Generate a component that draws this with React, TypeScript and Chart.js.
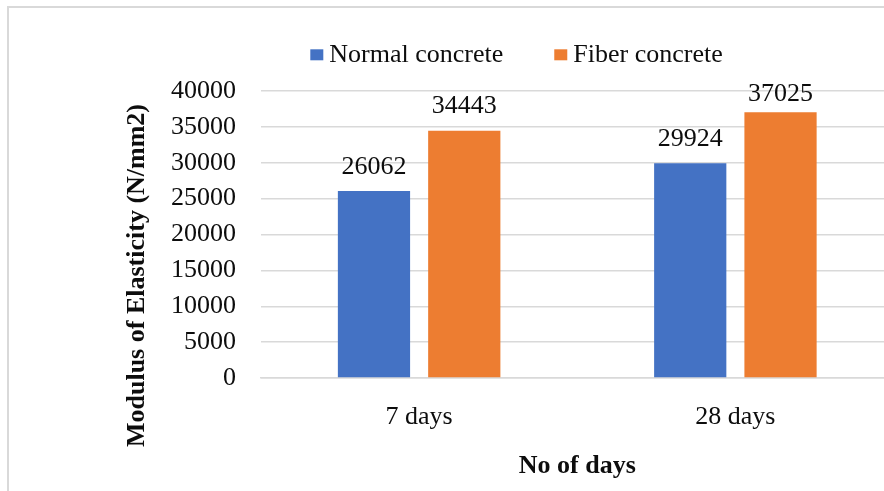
import { useEffect, useRef } from 'react';
import { Chart, registerables } from 'chart.js';

Chart.register(...registerables);

// Modulus of elasticity (N/mm2) at each curing age
const categories = ['7 days', '28 days'];
const normalConcrete = [26062, 29924];
const fiberConcrete = [34443, 37025];
const seriesNames = ['Normal concrete', 'Fiber concrete'];
const seriesColors = ['#4472C4', '#ED7D31'];
const yMin = 0;
const yMax = 40000;
const yStep = 5000;
const xTitle = 'No of days';
const yTitle = 'Modulus of Elasticity (N/mm2)';

const FONT = '"Liberation Serif", "Times New Roman", Times, serif';
const TEXT = '#0d0d0d';
const GRID = '#d9d9d9';

// Value labels above each bar, kept from running far above the plot area
const valueLabels = {
  id: 'valueLabels',
  afterDatasetsDraw(chart: any) {
    const { ctx, chartArea } = chart;
    ctx.save();
    ctx.font = `26px ${FONT}`;
    ctx.fillStyle = TEXT;
    ctx.textAlign = 'center';
    ctx.textBaseline = 'alphabetic';
    chart.data.datasets.forEach((ds: any, i: number) => {
      const meta = chart.getDatasetMeta(i);
      meta.data.forEach((bar: any, j: number) => {
        const y = Math.max(bar.y - 17.5, chartArea.top + 10);
        ctx.fillText(String(ds.data[j]), bar.x, y);
      });
    });
    ctx.restore();
  },
};

// Legend row: small square marker followed by the series name
const legendRow = {
  id: 'legendRow',
  afterDraw(chart: any) {
    const { ctx } = chart;
    const centerX = 507.5;
    const baseline = 53.7;
    const boxW = 13;
    const boxH = 11;
    const boxGap = 6;
    const itemGap = 51;
    ctx.save();
    ctx.font = `26px ${FONT}`;
    const items = chart.data.datasets.map((ds: any) => ({
      text: ds.label,
      color: ds.backgroundColor,
      w: ctx.measureText(ds.label).width,
    }));
    const total =
      items.reduce((s: number, it: any) => s + boxW + boxGap + it.w, 0) +
      itemGap * (items.length - 1);
    let x = centerX - total / 2;
    ctx.textAlign = 'left';
    ctx.textBaseline = 'alphabetic';
    items.forEach((it: any) => {
      ctx.fillStyle = it.color;
      ctx.fillRect(x, baseline - 12.4, boxW, boxH);
      x += boxW + boxGap;
      ctx.fillStyle = TEXT;
      ctx.fillText(it.text, x, baseline);
      x += it.w + itemGap;
    });
    ctx.restore();
  },
};

// Rotated value-axis title
const yAxisTitle = {
  id: 'yAxisTitle',
  afterDraw(chart: any) {
    const { ctx, chartArea } = chart;
    ctx.save();
    ctx.translate(chartArea.left - 117, (chartArea.top + chartArea.bottom) / 2 + 41);
    ctx.rotate(-Math.PI / 2);
    ctx.font = `bold 26px ${FONT}`;
    ctx.fillStyle = TEXT;
    ctx.textAlign = 'center';
    ctx.textBaseline = 'alphabetic';
    ctx.fillText(yTitle, 0, 0);
    ctx.restore();
  },
};

export default function App() {
  const ref = useRef<HTMLCanvasElement>(null);

  useEffect(() => {
    const chart = new Chart(ref.current as HTMLCanvasElement, {
      type: 'bar',
      data: {
        labels: categories,
        datasets: [
          {
            label: seriesNames[0],
            data: normalConcrete,
            backgroundColor: seriesColors[0],
            barPercentage: 0.8,
            categoryPercentage: 0.571,
          },
          {
            label: seriesNames[1],
            data: fiberConcrete,
            backgroundColor: seriesColors[1],
            barPercentage: 0.8,
            categoryPercentage: 0.571,
          },
        ],
      },
      options: {
        responsive: false,
        animation: false,
        devicePixelRatio: 1,
        layout: { padding: { left: 137, top: 83, right: 15.5, bottom: 22.6 } },
        plugins: {
          legend: { display: false },
          tooltip: { enabled: false },
        },
        scales: {
          x: {
            grid: { display: false, drawTicks: false },
            border: { display: true, color: GRID, width: 1.5 },
            ticks: { font: { family: FONT, size: 26 }, color: TEXT, padding: 24 },
            title: {
              display: true,
              text: xTitle,
              font: { family: FONT, size: 26, weight: 'bold' },
              color: TEXT,
              padding: { top: -7, bottom: 4 },
            },
          },
          y: {
            min: yMin,
            max: yMax,
            ticks: {
              stepSize: yStep,
              autoSkip: false,
              font: { family: FONT, size: 26 },
              color: TEXT,
              padding: 25,
              callback: (v: any) => String(v),
            },
            grid: { color: GRID, lineWidth: 1.5, drawTicks: false },
            border: { display: false },
          },
        },
      },
      plugins: [valueLabels, legendRow, yAxisTitle],
    });
    return () => chart.destroy();
  }, []);

  return (
    <div
      style={{
        position: 'fixed',
        left: 7,
        top: 6,
        width: 877,
        height: 485,
        overflow: 'hidden',
        background: '#fff',
      }}
    >
      <div
        style={{
          borderLeft: `2px solid ${GRID}`,
          borderTop: `2px solid ${GRID}`,
          width: 900,
          height: 500,
        }}
      >
        <canvas ref={ref} width={900} height={500} style={{ display: 'block', width: 900, height: 500 }} />
      </div>
    </div>
  );
}
